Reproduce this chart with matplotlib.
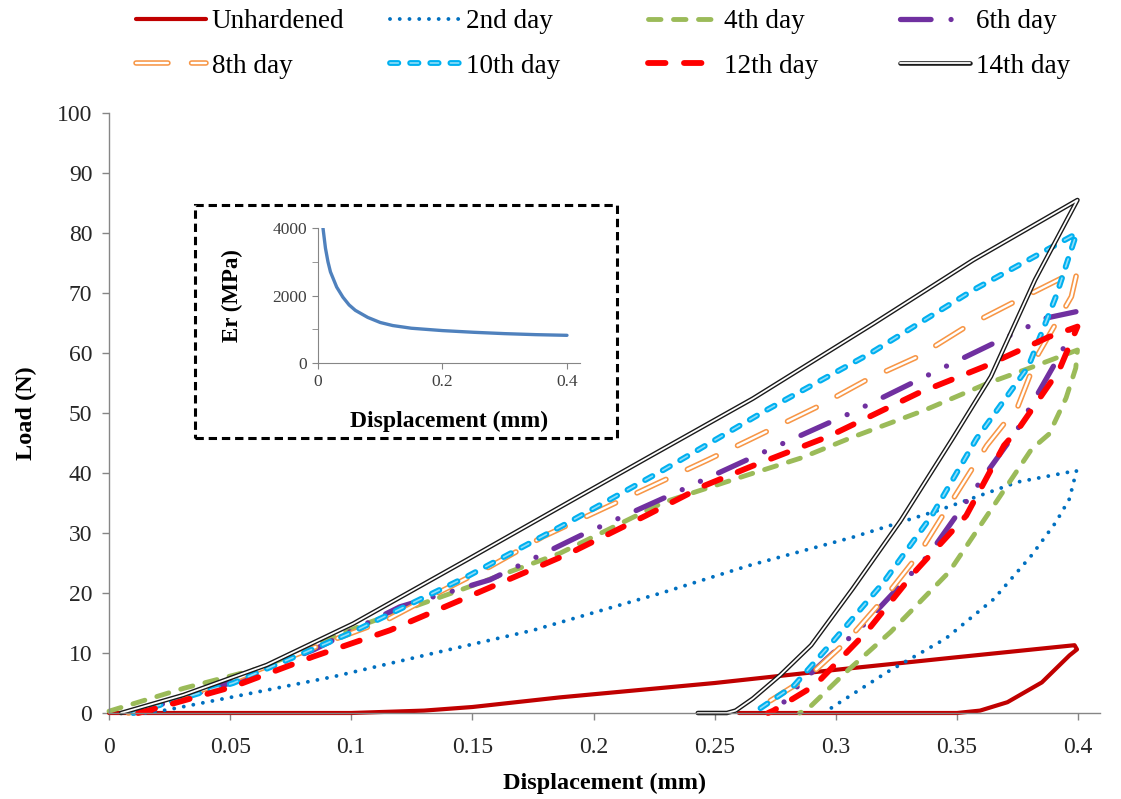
import numpy as np
import matplotlib
matplotlib.use("Agg")
import matplotlib.pyplot as plt
from matplotlib.patches import Rectangle
from matplotlib.legend_handler import HandlerTuple

plt.rcParams['font.family'] = ['Liberation Serif', 'DejaVu Serif']
plt.rcParams['lines.scale_dashes'] = False  # dash lengths in points

# ---- data (displacement mm, load N) ----
d_unh = [0, 0.10, 0.13, 0.15, 0.186, 0.25, 0.30, 0.35, 0.3985, 0.3995, 0.3964, 0.385, 0.3708, 0.3595, 0.35, 0.26]
f_unh = [0, 0, 0.4, 1.0, 2.6, 5.0, 7.2, 9.3, 11.3, 10.6, 9.6, 5.1, 1.8, 0.4, 0, 0]

d_2 = [0.015, 0.0238, 0.0513, 0.0926, 0.1338, 0.1751, 0.2288, 0.2643, 0.307, 0.3425, 0.3751, 0.3993,
       0.3964, 0.3908, 0.3808, 0.3652, 0.3453, 0.3211, 0.2998, 0.295]
f_2 = [0, 0.5, 2.7, 6.05, 9.95, 13.8, 20.1, 24.6, 29.3, 33.8, 38.5, 40.4,
       35.7, 31.8, 26.3, 19.0, 12.4, 6.8, 1.3, 0]

d_4 = [0, 0.0307, 0.0623, 0.1064, 0.145, 0.186, 0.2288, 0.263, 0.2856, 0.307, 0.3368, 0.3623, 0.378, 0.3997,
       0.399, 0.395, 0.388, 0.3808, 0.3652, 0.3467, 0.3226, 0.3041, 0.2885, 0.285]
f_4 = [0.3, 4.1, 7.45, 14.95, 20.5, 26.6, 35.1, 39.6, 42.5, 46.0, 50.5, 54.9, 57.2, 60.5,
       57.5, 52.5, 46.5, 44.0, 34.6, 23.5, 13.5, 6.8, 0.7, 0]

d_6 = [0.01, 0.05, 0.0843, 0.1201, 0.1572, 0.1947, 0.2316, 0.2714, 0.3083, 0.3425, 0.3865, 0.3993,
       0.3936, 0.3744, 0.3623, 0.3382, 0.3112, 0.2856, 0.2785, 0.275]
f_6 = [0, 5.0, 10.5, 17.7, 22.2, 29.6, 36.3, 43.7, 50.4, 57.2, 65.8, 66.9,
       60.5, 46.9, 40.1, 26.3, 14.6, 5.1, 1.8, 0]

d_8 = [0.008, 0.05, 0.0926, 0.1146, 0.1366, 0.1572, 0.1792, 0.2472, 0.2657, 0.2927, 0.3126, 0.3339, 0.3538,
       0.375, 0.3997, 0.3972, 0.3836, 0.3751, 0.3623, 0.3467, 0.3339, 0.3197, 0.3041, 0.2885, 0.27, 0.266]
f_8 = [0, 5.3, 12.2, 15.5, 20.2, 24.4, 29.4, 42.2, 45.8, 51.1, 55.5, 59.4, 64.4,
       68.8, 73.8, 69.4, 59.9, 51.1, 44.6, 34.6, 26.3, 19.0, 11.8, 6.0, 1.3, 0]

d_10 = [0.01, 0.0513, 0.0995, 0.1476, 0.1889, 0.2288, 0.2714, 0.314, 0.3567, 0.3993,
        0.3908, 0.3794, 0.358, 0.3396, 0.3197, 0.2998, 0.2828, 0.2685, 0.265]
f_10 = [0, 5.0, 13.3, 22.7, 31.6, 40.5, 50.5, 59.9, 70.5, 79.9,
        69.4, 57.7, 45.7, 32.9, 21.8, 12.4, 4.6, 0.7, 0]

d_12 = [0.012, 0.0169, 0.0513, 0.0843, 0.116, 0.1421, 0.19, 0.2216, 0.2458, 0.2657, 0.297, 0.3339, 0.361, 0.388,
        0.3997, 0.3922, 0.3751, 0.3694, 0.3538, 0.3325, 0.3126, 0.2913, 0.2742, 0.272]
f_12 = [0, 0.5, 4.4, 9.4, 13.8, 18.3, 26.6, 32.9, 37.9, 41.2, 46.1, 53.3, 57.7, 62.7,
        64.4, 57.2, 47.2, 44.6, 32.9, 23.5, 13.5, 4.6, 0.4, 0]

d_14 = [0.005, 0.0307, 0.0651, 0.1008, 0.1476, 0.19, 0.2216, 0.2657, 0.3155, 0.3567, 0.3997,
        0.3822, 0.364, 0.3481, 0.3268, 0.3069, 0.2898, 0.277, 0.2657, 0.2586, 0.255, 0.243]
f_14 = [0, 3.0, 8.0, 14.9, 25.5, 35.2, 42.4, 52.4, 64.9, 75.5, 85.5,
        72.2, 56.1, 45.7, 32.1, 20.7, 11.3, 6.3, 2.4, 0.4, 0, 0]

# inset: reduced modulus vs displacement
er_d = [0.008, 0.012, 0.016, 0.02, 0.03, 0.04, 0.05, 0.06, 0.08, 0.10, 0.12, 0.15, 0.20, 0.25, 0.30, 0.35, 0.40]
er_v = [4000, 3400, 3000, 2700, 2250, 1950, 1720, 1560, 1350, 1200, 1110, 1030, 960, 910, 870, 840, 820]

W, H = 1121, 799
fig = plt.figure(figsize=(W / 100, H / 100), dpi=100)
ax = fig.add_axes([109 / W, 86 / H, 991 / W, 600 / H])

kw = dict(clip_on=False, dash_capstyle='round', solid_capstyle='round',
          solid_joinstyle='round', dash_joinstyle='round')

l_unh, = ax.plot(d_unh, f_unh, color='#C00000', lw=3.0, **kw)
l_2, = ax.plot(d_2, f_2, color='#0070C0', lw=2.8, ls=(0, (0.01, 7)), **kw)
l_4, = ax.plot(d_4, f_4, color='#9BBB59', lw=3.5, ls=(0, (9, 9)), **kw)
l_6, = ax.plot(d_6, f_6, color='#7030A0', lw=3.8,
               ls=(0, (22, 14.4, 0.01, 14.4, 0.01, 14.4)), **kw)
l_8a, = ax.plot(d_8, f_8, color='#F79646', lw=4.0, ls=(0, (23, 17)), **kw)
l_8b, = ax.plot(d_8, f_8, color='white', lw=1.7, ls=(0, (23, 17)), **kw)
l_10a, = ax.plot(d_10, f_10, color='#00B0F0', lw=4.2, ls=(0, (6, 8.5)), **kw)
l_10b, = ax.plot(d_10, f_10, color='#8FDDF8', lw=1.2, ls=(0, (6, 8.5)), **kw)
l_12, = ax.plot(d_12, f_12, color='#FF0000', lw=4.2, ls=(0, (12.6, 13.3)), **kw)
l_14a, = ax.plot(d_14, f_14, color='#1A1A1A', lw=3.3, **kw)
l_14b, = ax.plot(d_14, f_14, color='white', lw=1.3, **kw)

ax.set_xlim(0, 0.409)
ax.set_ylim(0, 100)
xt = np.arange(0, 0.401, 0.05)
ax.set_xticks(xt)
ax.set_xticklabels(['%g' % round(v, 2) for v in xt])
ax.set_yticks(np.arange(0, 101, 10))
for s in ['top', 'right']:
    ax.spines[s].set_visible(False)
for s in ['left', 'bottom']:
    ax.spines[s].set_color('#868686')
    ax.spines[s].set_linewidth(1.0)
ax.tick_params(direction='out', length=5, width=1.0, color='#868686',
               labelsize=17, labelcolor='#262626')
ax.tick_params(axis='x', pad=12)
ax.tick_params(axis='y', pad=7)
ax.set_xlabel('Displacement (mm)', fontsize=17.5, fontweight='bold', labelpad=11)
ax.set_ylabel('Load (N)', fontsize=17.5, fontweight='bold', labelpad=14)

# ---- legend: 4 columns, 2 rows ----
cols = [
    (136, [l_unh, (l_8a, l_8b)], ['Unhardened', '8th day']),
    (390, [l_2, (l_10a, l_10b)], ['2nd day', '10th day']),
    (648, [l_4, l_12], ['4th day', '12th day']),
    (900, [l_6, (l_14a, l_14b)], ['6th day', '14th day']),
]
for x0, hs, labs in cols:
    leg = fig.legend(hs, labs, loc='upper left', bbox_to_anchor=(x0 / W, 1 - 9 / H),
                     frameon=False, fontsize=19.5, borderpad=0, borderaxespad=0,
                     handlelength=2.6, handletextpad=0.2, labelspacing=0.73,
                     handler_map={tuple: HandlerTuple(ndivide=1)})

# ---- inset ----
iax = fig.add_axes([318 / W, (H - 363) / H, 262 / W, 135 / H])
iax.plot(er_d, er_v, color='#4F81BD', lw=2.4, solid_capstyle='round')
iax.set_xlim(0, 0.4209)
iax.set_ylim(0, 4000)
iax.set_xticks([0, 0.2, 0.4])
iax.set_xticklabels(['0', '0.2', '0.4'])
iax.set_yticks([0, 2000, 4000])
iax.set_yticks([1000, 3000], minor=True)
iax.patch.set_alpha(0)
for s in ['top', 'right']:
    iax.spines[s].set_visible(False)
for s in ['left', 'bottom']:
    iax.spines[s].set_color('#868686')
iax.tick_params(which='both', direction='out', length=4, color='#868686',
                labelsize=12.5, labelcolor='#404040', pad=4)
iax.set_xlabel('Displacement (mm)', fontsize=17, fontweight='bold', labelpad=15)
iax.set_ylabel('Er (MPa)', fontsize=16.5, fontweight='bold', labelpad=21)

fig.add_artist(Rectangle((195 / W, (H - 438) / H), 422 / W, 233 / H, transform=fig.transFigure,
                         fill=False, ec='black', lw=2.2, ls=(0, (6, 3.5))))

fig.savefig('out.png', dpi=100)
